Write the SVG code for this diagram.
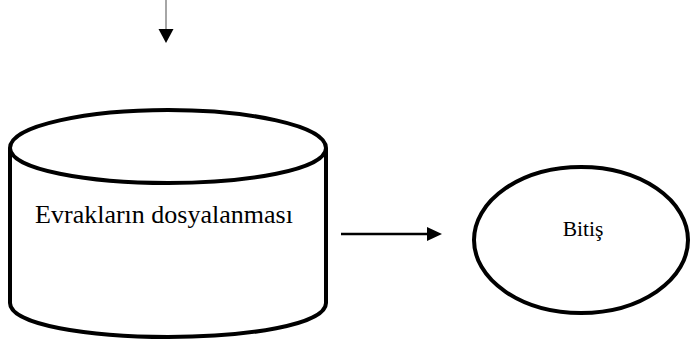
<svg xmlns="http://www.w3.org/2000/svg" width="691" height="347" viewBox="0 0 691 347">
<style>
.shape{fill:#fff;stroke:#000;stroke-width:4}
.lbl{font-family:"Liberation Serif","Times New Roman",serif;fill:#000}
</style>
<rect width="691" height="347" fill="#fff"/>
<g id="connectors">
<line x1="166" y1="0" x2="166" y2="30" stroke="#888" stroke-width="1.5"/>
<path d="M158.5,29 L173.5,29 L166,43 Z" fill="#000"/>
<line x1="341" y1="234" x2="430" y2="234" stroke="#000" stroke-width="2.5"/>
<path d="M427,227 L442,234 L427,241 Z" fill="#000"/>
</g>
<g id="node-dosyalama">
<path class="shape" d="M10,148 L10,303 C10,325 90,337 168,337 C246,337 326,325 326,303 L326,148 C326,125 246,110 168,110 C90,110 10,125 10,148 Z"/>
<path class="shape" fill="none" d="M10,148 C10,170 90,183 168,183 C246,183 326,170 326,148"/>
<text class="lbl" x="164" y="223" font-size="26" text-anchor="middle">Evrakların dosyalanması</text>
</g>
<g id="node-bitis">
<ellipse class="shape" cx="581" cy="240" rx="107" ry="73"/>
<text class="lbl" x="583" y="236" font-size="21.5" text-anchor="middle">Bitiş</text>
</g>
</svg>
